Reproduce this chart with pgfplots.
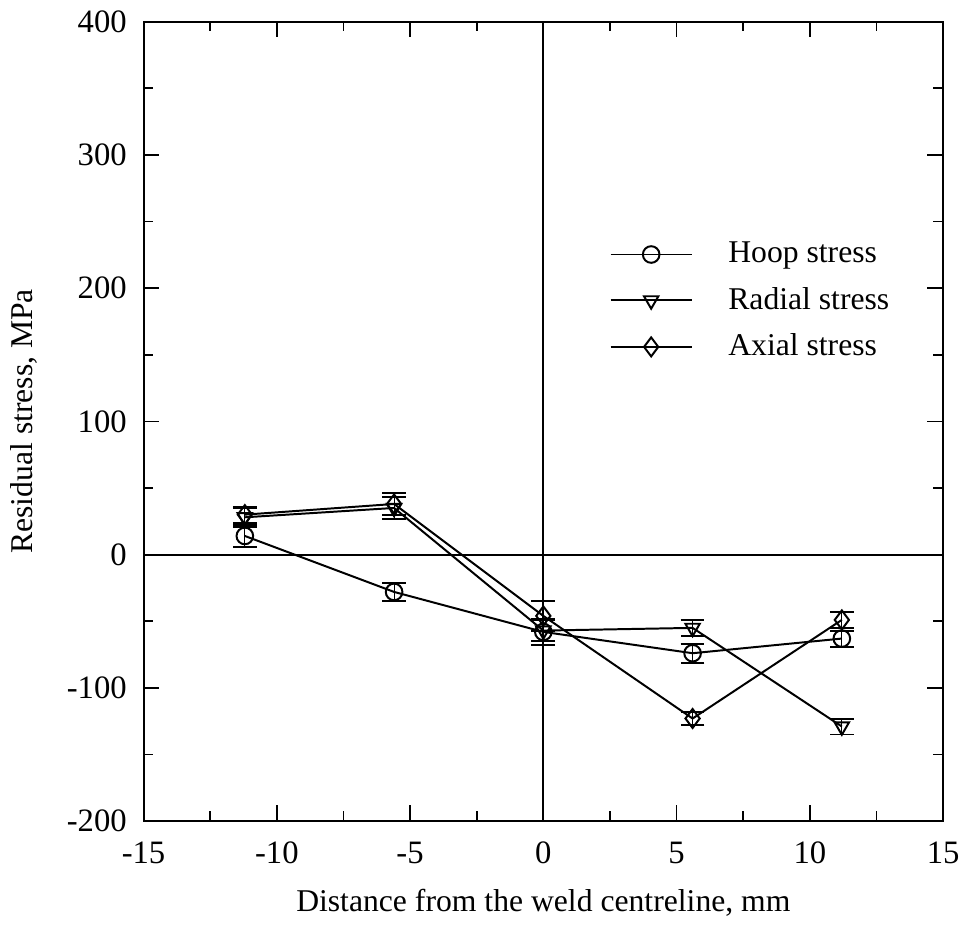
\documentclass[border=0pt]{standalone}
\usepackage{pgfplots}
\pgfplotsset{compat=1.18}
\usepackage{fontspec}
\setmainfont{Liberation Serif}
\begin{document}
\fontsize{16}{19}\selectfont
\begin{tikzpicture}
\begin{axis}[
  scale only axis,
  width=404pt, height=404pt,
  xmin=-15, xmax=15, ymin=-200, ymax=400,
  xtick={-15,-10,...,15}, ytick={-200,-100,...,400},
  minor x tick num=1, minor y tick num=1,
  tick align=inside, tick pos=both,
  major tick length=8pt, minor tick length=5pt,
  every tick/.style={black, line width=0.8pt},
  axis line style={line width=1pt},
  /pgf/number format/assume math mode=true,
  ticklabel style={font=\fontsize{16.5}{19}\selectfont},
  xticklabel style={yshift=-5pt},
  yticklabel style={xshift=-3pt},
  label style={font=\fontsize{16}{19}\selectfont},
  xlabel={Distance from the weld centreline, mm},
  ylabel={Residual stress, MPa},
  xlabel style={yshift=-2pt},
  ylabel style={yshift=4pt},
  legend style={draw=none, fill=none, at={(0.575,0.735)}, anchor=north west, font=\fontsize{16}{19}\selectfont, row sep=6pt},
  legend cell align=left,
  legend image code/.code={\draw[#1, mark repeat=2, mark phase=2] plot coordinates {(0cm,0cm) (0.72cm,0cm) (1.44cm,0cm)};},
  every axis plot/.append style={black, line width=1pt, mark size=4.2pt, mark options={solid, fill=white, line width=1pt}},
  error bars/error mark options={rotate=90, mark size=6pt, line width=1pt},
]
\draw[black, line width=1pt] (axis cs:-15,0) -- (axis cs:15,0);
\draw[black, line width=1pt] (axis cs:0,-200) -- (axis cs:0,400);

\addplot[black, mark=o, error bars/.cd, y dir=both, y explicit] coordinates {
  (-11.2,14) +- (0,8)
  (-5.6,-28) +- (0,7)
  (0,-58) +- (0,10)
  (5.6,-74) +- (0,7)
  (11.2,-63) +- (0,6)
};
\addlegendentry{\hspace{16pt}Hoop stress}
\addplot[black, mark=triangle, mark options={rotate=180}, error bars/.cd, y dir=both, y explicit] coordinates {
  (-11.2,28) +- (0,7)
  (-5.6,35) +- (0,8)
  (0,-57) +- (0,8)
  (5.6,-55) +- (0,6)
  (11.2,-129) +- (0,6)
};
\addlegendentry{\hspace{16pt}Radial stress}
\addplot[black, mark=diamond, mark options={mark size=4.8pt}, error bars/.cd, y dir=both, y explicit] coordinates {
  (-11.2,30) +- (0,6)
  (-5.6,38) +- (0,8)
  (0,-46) +- (0,11)
  (5.6,-123) +- (0,5)
  (11.2,-49) +- (0,6)
};
\addlegendentry{\hspace{16pt}Axial stress}
\end{axis}
\end{tikzpicture}
\end{document}
